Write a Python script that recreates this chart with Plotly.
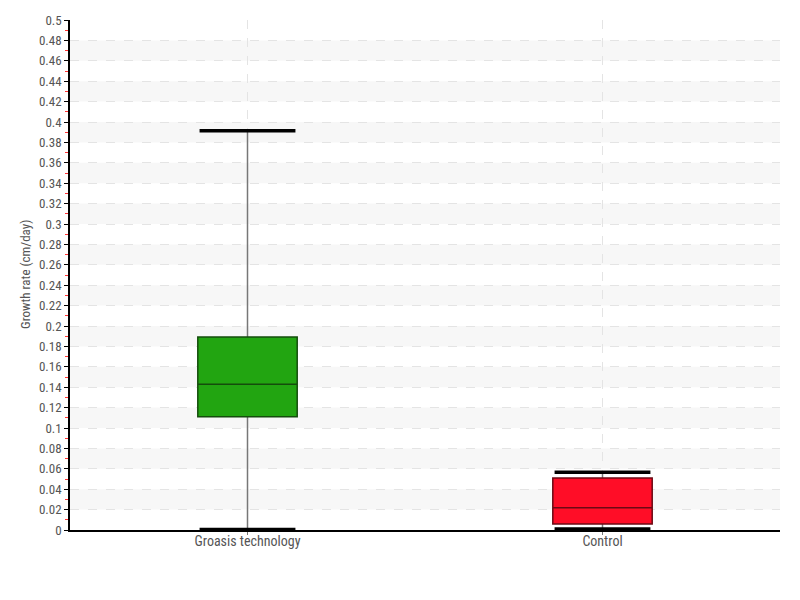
import plotly.graph_objects as go

categories = ["Groasis technology", "Control"]
lower_whisker = [0.0005, 0.001]
q1_values = [0.111, 0.0058]
median_values = [0.1428, 0.0219]
q3_values = [0.1892, 0.051]
upper_whisker = [0.3915, 0.0565]
fill_colors = ["#22a511", "#ff0d27"]
edge_colors = ["#144d0c", "#6b0a14"]
y_title = "Growth rate (cm/day)"

FONT = "Liberation Sans Narrow, Roboto Condensed, DejaVu Sans Condensed, sans-serif"
BOX_W = 0.28
CAP_HALF = 0.135

fig = go.Figure()

# alternating bands
shapes = []
b = 0.02
while b < 0.5 - 1e-9:
    shapes.append(dict(type="rect", xref="paper", yref="y", x0=0, x1=1, y0=b, y1=b + 0.02,
                       fillcolor="#f7f7f7", line=dict(width=0), layer="below"))
    b += 0.04

for i, cat in enumerate(categories):
    shapes.append(dict(type="line", xref="x", yref="y", x0=i, x1=i,
                       y0=lower_whisker[i], y1=upper_whisker[i],
                       line=dict(color="#777777", width=1.5), layer="between"))
    fig.add_trace(go.Box(
        x=[cat], q1=[q1_values[i]], median=[median_values[i]], q3=[q3_values[i]],
        lowerfence=[q1_values[i]], upperfence=[q3_values[i]],
        fillcolor=fill_colors[i], line=dict(color=edge_colors[i], width=1.5),
        width=BOX_W, showlegend=False, hoverinfo="skip",
    ))
    for yv in (lower_whisker[i], upper_whisker[i]):
        shapes.append(dict(type="line", xref="x", yref="y", x0=i - CAP_HALF, x1=i + CAP_HALF,
                           y0=yv, y1=yv, line=dict(color="#000000", width=3.5), layer="above"))

fig.update_layout(
    width=800, height=600,
    margin=dict(l=62, r=28, t=12, b=78),
    paper_bgcolor="white", plot_bgcolor="white",
    font=dict(family=FONT, size=13, color="#555555"),
    shapes=shapes,
    annotations=[dict(text=y_title, textangle=-90, xref="paper", yref="paper",
                      x=0, y=0.5, xshift=-45, xanchor="center", yanchor="middle",
                      showarrow=False, font=dict(family=FONT, size=13, color="#555555"))],
    xaxis=dict(
        type="category", categoryorder="array", categoryarray=categories,
        range=[-0.5, 1.5], automargin=False,
        showline=True, linecolor="#000000", linewidth=1.5,
        showgrid=True, gridcolor="#e4e4e4", griddash="dash", gridwidth=1,
        ticks="outside", ticklen=3, tickcolor="#777777", ticklabelstandoff=-6,
        tickfont=dict(family=FONT, size=14, color="#555555"),
        zeroline=False,
    ),
    yaxis=dict(
        range=[0, 0.5], dtick=0.02, tick0=0, tickformat="~g", automargin=False,
        showline=True, linecolor="#000000", linewidth=1.5,
        showgrid=True, gridcolor="#e4e4e4", griddash="dash", gridwidth=1,
        ticks="outside", ticklen=4, tickcolor="#000000",
        minor=dict(dtick=0.01, ticks="outside", ticklen=3, tickcolor="#ff3333", showgrid=False),
        tickfont=dict(family=FONT, size=13, color="#555555"),
        zeroline=False,
    ),
)

fig.write_html("out.html")
